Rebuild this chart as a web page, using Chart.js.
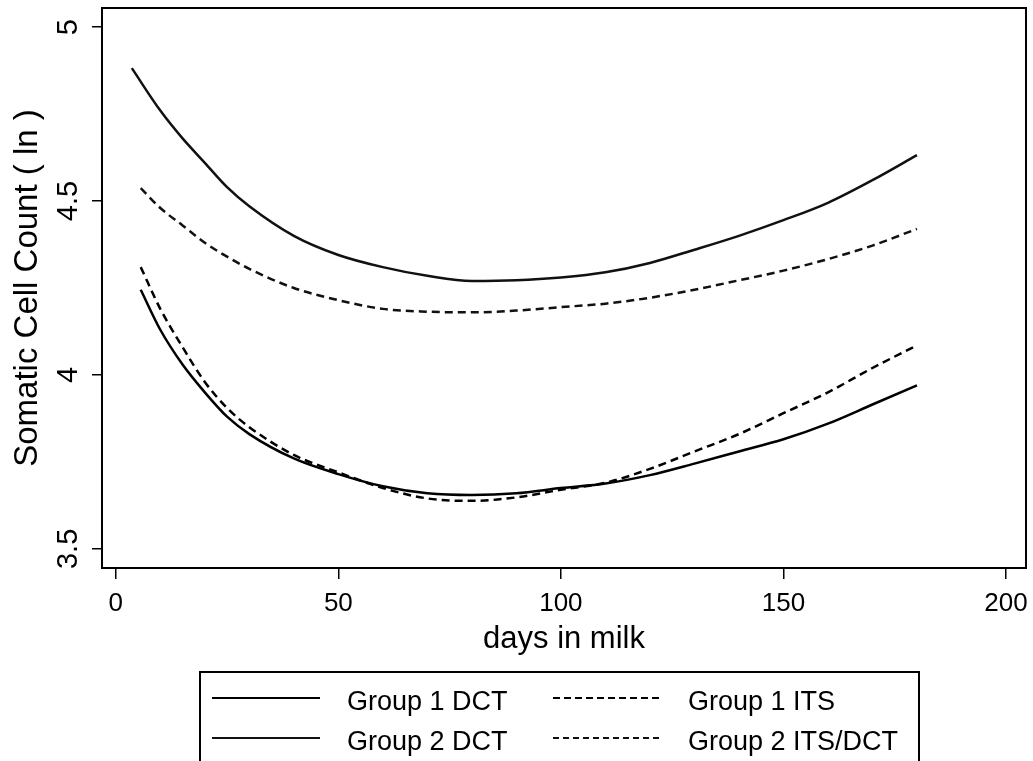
<!DOCTYPE html>
<html>
<head>
<meta charset="utf-8">
<title>Somatic Cell Count by days in milk</title>
<script src="https://cdn.jsdelivr.net/npm/chart.js@4.4.0/dist/chart.umd.min.js"></script>
<style>
  html, body { margin: 0; padding: 0; background: #fff; }
  canvas { display: block; }
</style>
</head>
<body>
<canvas id="sccChart" width="1033" height="761"></canvas>
<script>
// ================== Data ==================
const seriesNames = ["Group 1 DCT", "Group 1 ITS", "Group 2 DCT", "Group 2 ITS/DCT"];

const daysStd = [5.6, 10, 15, 20, 25, 30, 40, 50, 60, 70, 80, 90, 100, 110, 120, 130, 140, 150, 160, 170, 180];
const daysG2Dct = [3.6, 10, 15, 20, 25, 30, 40, 50, 60, 70, 80, 90, 100, 110, 120, 130, 140, 150, 160, 170, 180];

const g1Dct = [4.245, 4.13, 4.03, 3.95, 3.88, 3.83, 3.76, 3.715, 3.68, 3.66, 3.655, 3.66, 3.675, 3.688, 3.712, 3.745, 3.78, 3.815, 3.86, 3.915, 3.97];
const g1Its = [4.31, 4.19, 4.08, 3.98, 3.905, 3.85, 3.77, 3.72, 3.675, 3.645, 3.638, 3.648, 3.67, 3.69, 3.73, 3.78, 3.83, 3.89, 3.95, 4.02, 4.085];
const g2Dct = [4.882, 4.76, 4.68, 4.61, 4.54, 4.485, 4.40, 4.345, 4.31, 4.285, 4.27, 4.272, 4.28, 4.295, 4.322, 4.36, 4.40, 4.445, 4.495, 4.56, 4.632];
const g2ItsDct = [4.537, 4.48, 4.43, 4.38, 4.34, 4.305, 4.25, 4.215, 4.19, 4.182, 4.18, 4.185, 4.195, 4.205, 4.222, 4.245, 4.272, 4.30, 4.333, 4.372, 4.42];

const xTicks = [0, 50, 100, 150, 200];
const yTicks = [3.5, 4, 4.5, 5];

// ================== Styles ==================
const FONT = "'Liberation Sans', Arial, Helvetica, sans-serif";
const lineColors = ["#000", "#000", "#111", "#111"];
const lineDashes = [[], [8, 5], [], [8, 5]];
const legendDashes = [[], [7, 4], [], [6, 4]];

function toPoints(days, vals) {
  return days.map((d, i) => ({ x: d, y: vals[i] }));
}

const seriesData = [
  toPoints(daysStd, g1Dct),
  toPoints(daysStd, g1Its),
  toPoints(daysG2Dct, g2Dct),
  toPoints(daysStd, g2ItsDct),
];

// stop the scales from pushing the plot area in for their labels
function noScalePadding(s) {
  s.paddingTop = 0;
  s.paddingBottom = 0;
  s.paddingLeft = 0;
  s.paddingRight = 0;
}

// ================== Frame + boxed legend ==================
const frameAndLegend = {
  id: "frameAndLegend",
  afterDraw(chart) {
    const { ctx, chartArea: a } = chart;
    ctx.save();
    ctx.strokeStyle = "#000";
    ctx.lineWidth = 2;
    ctx.strokeRect(a.left, a.top, a.right - a.left, a.bottom - a.top);

    // legend box (bottom edge runs off the page like the original)
    ctx.strokeRect(200, 672, 719, 130);

    const colX = [212, 553];
    const rowY = [698, 738];
    ctx.font = "27px " + FONT;
    ctx.fillStyle = "#000";
    ctx.textBaseline = "alphabetic";
    ctx.textAlign = "left";
    seriesNames.forEach((name, i) => {
      const col = i % 2, row = Math.floor(i / 2);
      const x = colX[col], y = rowY[row];
      ctx.beginPath();
      ctx.setLineDash(legendDashes[i]);
      ctx.lineWidth = 2;
      ctx.strokeStyle = lineColors[i];
      ctx.moveTo(x, y);
      ctx.lineTo(x + 108, y);
      ctx.stroke();
      ctx.setLineDash([]);
      ctx.fillText(name, x + 135, y + 12);
    });
    ctx.restore();
  },
};

// ================== Chart ==================
new Chart(document.getElementById("sccChart"), {
  type: "scatter",
  data: {
    datasets: seriesNames.map((name, i) => ({
      label: name,
      data: seriesData[i],
      showLine: true,
      borderColor: lineColors[i],
      borderWidth: 2.5,
      borderDash: lineDashes[i],
      pointRadius: 0,
      cubicInterpolationMode: "monotone",
      fill: false,
    })),
  },
  options: {
    responsive: false,
    animation: false,
    devicePixelRatio: 1,
    layout: { padding: { top: 8, right: 7, bottom: 93, left: 0 } },
    plugins: { legend: { display: false }, tooltip: { enabled: false } },
    scales: {
      x: {
        type: "linear",
        min: -3.1,
        max: 204.5,
        afterBuildTicks: (s) => { s.ticks = xTicks.map((v) => ({ value: v })); },
        afterFit: (s) => { s.height = 100; noScalePadding(s); },
        grid: { drawOnChartArea: false, drawTicks: true, tickLength: 11, color: "#000", lineWidth: 1.5 },
        border: { display: false },
        ticks: {
          color: "#000",
          font: { family: FONT, size: 26 },
          padding: 9,
          maxRotation: 0,
          callback: (v) => String(v),
        },
        title: {
          display: true,
          text: "days in milk",
          color: "#000",
          font: { family: FONT, size: 31 },
          padding: { top: 0, bottom: 10 },
        },
      },
      y: {
        type: "linear",
        min: 3.445,
        max: 5.055,
        afterBuildTicks: (s) => { s.ticks = yTicks.map((v) => ({ value: v })); },
        afterFit: (s) => { s.width = 102; noScalePadding(s); },
        grid: { drawOnChartArea: false, drawTicks: true, tickLength: 10, color: "#000", lineWidth: 1.5 },
        border: { display: false },
        ticks: {
          color: "#000",
          font: { family: FONT, size: 29 },
          padding: 3,
          minRotation: 90,
          maxRotation: 90,
          crossAlign: "center",
          callback: (v) => String(v),
        },
        title: {
          display: true,
          text: "Somatic Cell Count ( ln )",
          color: "#000",
          font: { family: FONT, size: 33 },
          padding: { top: 8, bottom: 0 },
        },
      },
    },
  },
  plugins: [frameAndLegend],
});
</script>
</body>
</html>
